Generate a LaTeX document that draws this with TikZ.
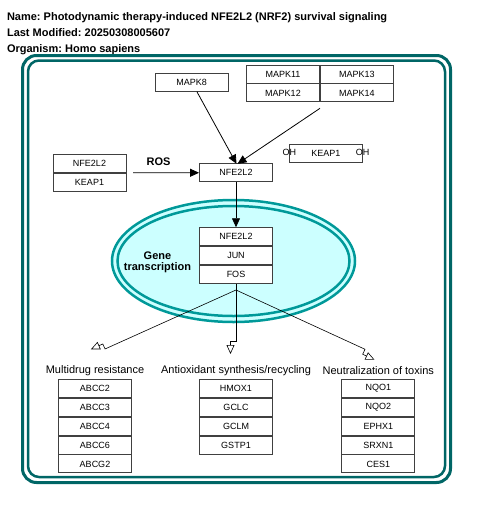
\documentclass[tikz,border=0pt]{standalone}
\usepackage{fontspec}
\setmainfont{Liberation Sans}
\usepackage{xcolor}
\usetikzlibrary{
	arrows.meta,
	calc,
	positioning
}
\definecolor{FrameTeal}{RGB}{0,102,102}
\definecolor{NucTeal}{RGB}{0,153,153}
\definecolor{NucFill}{RGB}{204,255,255}
\definecolor{BoxGray}{RGB}{64,64,64}

\begin{document}
\frenchspacing
\begin{tikzpicture}[x=1pt, y=-1pt,
		gene/.style={draw=BoxGray, fill=white, line width=0.9pt, minimum width=73pt, minimum height=18pt, inner sep=0pt, font=\fontsize{9}{10}\selectfont},
		lbl/.style={font=\fontsize{11}{13}\selectfont},
		blbl/.style={font=\bfseries\fontsize{11}{13}\selectfont},
		act/.style={-{Triangle[length=9pt, width=8pt]}, line width=0.8pt},
		trx/.style={-{Triangle[open, length=9pt, width=8pt]}, line width=0.6pt}]
		\useasboundingbox (0,0) rectangle (480,512);
		
		% header
		\node[anchor=base west, blbl] (name) at (3.5,20) {Name: Photodynamic therapy-induced NFE2L2 (NRF2) survival signaling};
		\node[anchor=base west, blbl] (modified) at (3.5,36.7) {Last Modified: 20250308005607};
		\node[anchor=base west, blbl] (organism) at (3.5,52.8) {Organism: Homo sapiens};
		
		% cell
		\draw[FrameTeal, line width=3pt, rounded corners=14pt] (22.5,55.5) rectangle (450.5,482.5);
		\draw[FrameTeal, line width=2.5pt, rounded corners=11pt] (28,60.5) rectangle (445,477);
		
		% nucleus
		\fill[NucFill] (233.5,261) ellipse (121.5 and 61);
		\draw[NucTeal, line width=2.5pt] (233.5,261) ellipse (121.5 and 61);
		\draw[NucTeal, line width=2.5pt] (233.5,261) ellipse (116 and 55);
		
		% kinases
		\node[gene] (mapk8) at (191.7,82.2) {MAPK8};
		\node[gene] (mapk11) at (283,74) {MAPK11};
		\node[gene, right=0pt of mapk11] (mapk13) {MAPK13};
		\node[gene, below=0pt of mapk11] (mapk12) {MAPK12};
		\node[gene, right=0pt of mapk12] (mapk14) {MAPK14};
		\coordinate (mapkgrp) at (320,108.3);
		
		% complex and free NFE2L2
		\node[gene] (nrfc) at (89.5,163.7) {NFE2L2};
		\node[gene, below=0pt of nrfc] (keapc) {KEAP1};
		\coordinate (ros) at (133,172.7);
		\node[blbl] (roslbl) at (158.5,162) {ROS};
		\node[gene] (nrf) at (236,172.8) {NFE2L2};
		
		\node[gene] (keap) at (325.8,153.3) {KEAP1};
		\node[font=\fontsize{9}{10}\selectfont] (ohl) at (289.3,152) {OH};
		\node[font=\fontsize{9}{10}\selectfont] (ohr) at (362.6,152) {OH};
		
		% transcription factors
		\node[gene] (nrfn) at (236,236.7) {NFE2L2};
		\node[gene, below=0pt of nrfn] (jun) {JUN};
		\node[gene, below=0pt of jun] (fos) {FOS};
		\node[blbl, align=center] (gtlbl) at (157.5,262) {Gene\\[-2pt]transcription};
		
		\draw[act] (mapk8) -- (236.5,163.8);
		\draw[act] (mapkgrp) -- (237.5,163.8);
		\draw[act] (ros) -- (nrf);
		\draw[act] (nrf) -- (nrfn);
		
		% target genes
		\coordinate (hub) at (236,290);
		\coordinate (mdr) at (93.2,354.3);
		\coordinate (aox) at (236,354);
		\coordinate (tox) at (376.8,354.7);
		\draw[line width=0.6pt] (fos.south) -- (hub);
		\foreach \t in {mdr,aox,tox}{
			\coordinate (\t A) at ($(\t)!13pt!(hub)$);
			\coordinate (\t B) at ($(\t A)!5.5pt!90:(hub)$);
			\coordinate (\t C) at ($(\t)!5.5pt!90:(hub)$);
			\draw[trx] (hub) -- (\t A) -- (\t B) -- (\t C);
		}
		
		\node[lbl] (mdrlbl) at (95,371) {Multidrug resistance};
		\node[lbl] (aoxlbl) at (236,371) {Antioxidant synthesis/recycling};
		\node[lbl] (toxlbl) at (378.3,371) {Neutralization of toxins};
		
		\node[gene] (abcc2) at (95,388.3) {ABCC2};
		\node[gene, below=0pt of abcc2] (abcc3) {ABCC3};
		\node[gene, below=0pt of abcc3] (abcc4) {ABCC4};
		\node[gene, below=0pt of abcc4] (abcc6) {ABCC6};
		\node[gene, below=0pt of abcc6] (abcg2) {ABCG2};
		
		\node[gene] (hmox1) at (236,388.3) {HMOX1};
		\node[gene, below=0pt of hmox1] (gclc) {GCLC};
		\node[gene, below=0pt of gclc] (gclm) {GCLM};
		\node[gene, below=0pt of gclm] (gstp1) {GSTP1};
		
		\node[gene] (nqo1) at (378.3,388.3) {NQO1};
		\node[gene, below=0pt of nqo1] (nqo2) {NQO2};
		\node[gene, below=0pt of nqo2] (ephx1) {EPHX1};
		\node[gene, below=0pt of ephx1] (srxn1) {SRXN1};
		\node[gene, below=0pt of srxn1] (ces1) {CES1};
	\end{tikzpicture}
\end{document}
